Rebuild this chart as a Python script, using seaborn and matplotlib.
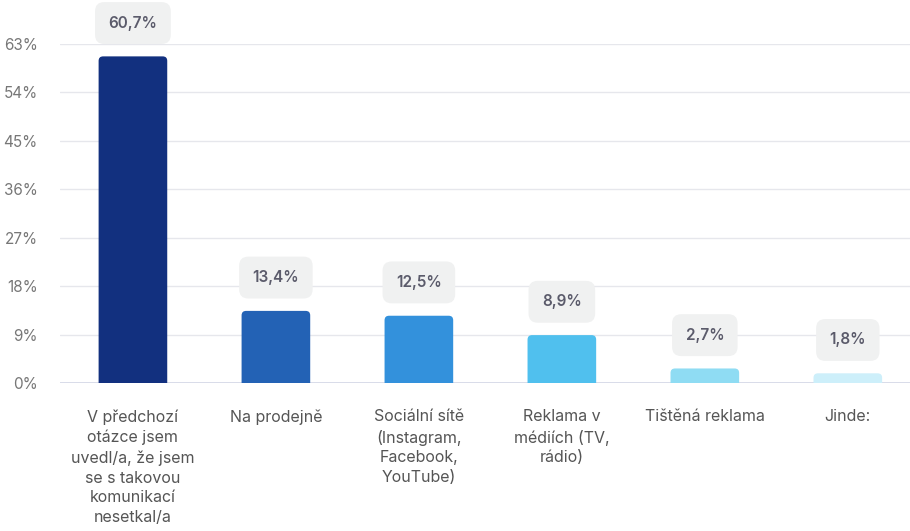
import matplotlib
matplotlib.use("Agg")
import matplotlib.pyplot as plt
from matplotlib.patches import FancyBboxPatch
import seaborn as sns
import pandas as pd

categories = [
    "V předchozí\notázce jsem\nuvedl/a, že jsem\nse s takovou\nkomunikací\nnesetkal/a",
    "Na prodejně",
    "Sociální sítě\n(Instagram,\nFacebook,\nYouTube)",
    "Reklama v\nmédiích (TV,\nrádio)",
    "Tištěná reklama",
    "Jinde:",
]
values = [60.7, 13.4, 12.5, 8.9, 2.7, 1.8]
value_labels = ["60,7%", "13,4%", "12,5%", "8,9%", "2,7%", "1,8%"]
colors = ["#12307f", "#2362b5", "#3391dc", "#50c0ee", "#8fdcf3", "#cdeffa"]
y_ticks = [0, 9, 18, 27, 36, 45, 54, 63]

sns.set_theme(style="white")
plt.rcParams["font.family"] = ["Inter", "DejaVu Sans"]

df = pd.DataFrame({"cat": categories, "val": values})

fig = plt.figure(figsize=(9.1, 5.31), dpi=100)
ax = fig.add_axes([60 / 910, 148 / 531, 850 / 910, 339 / 531])

sns.barplot(data=df, x="cat", y="val", hue="cat", palette=colors,
            width=0.48, legend=False, ax=ax, saturation=1)

ax.set_xlim(-0.51, 5.435)
ax.set_ylim(0, 63)

# replace plain bars with top-rounded ones
px_x = 850 / (5.435 + 0.51)
px_y = 339 / 63
r_px = 4.5
for p in list(ax.patches):
    x0, w, h = p.get_x(), p.get_width(), p.get_height()
    fc = p.get_facecolor()
    p.remove()
    r_x = r_px / px_x
    ry = r_px / px_y
    rb = FancyBboxPatch((x0, -ry), w, h + ry,
                        boxstyle=f"round,pad=0,rounding_size={r_x}",
                        mutation_aspect=px_x / px_y,
                        facecolor=fc, edgecolor="none", zorder=2,
                        clip_on=True)
    ax.add_patch(rb)

for i, (v, lab) in enumerate(zip(values, value_labels)):
    ax.annotate(lab, xy=(i, v), xytext=(0, 24), textcoords="offset points",
                ha="center", va="center", fontsize=11, fontweight="semibold",
                color="#5b5b6b", annotation_clip=False, zorder=4,
                bbox=dict(boxstyle="round,pad=0.88,rounding_size=0.6",
                          facecolor="#f0f1f1", edgecolor="none"))

ax.set_yticks(y_ticks)
ax.set_yticklabels([f"{t}%" for t in y_ticks])
ax.yaxis.grid(True, color="#e6e7ec", linewidth=1)
ax.set_axisbelow(True)
ax.axhline(0, color="#d3d7e6", linewidth=1.2, zorder=1)
for s in ax.spines.values():
    s.set_visible(False)

ax.tick_params(axis="y", length=0, pad=16, labelsize=11, labelcolor="#777777")
ax.tick_params(axis="x", length=0, pad=19, labelsize=11.5, labelcolor="#555555")
for t in ax.get_yticklabels():
    t.set_horizontalalignment("right")
for t in ax.get_xticklabels():
    t.set_linespacing(1.4)
    t.set_verticalalignment("top")
ax.set_xlabel("")
ax.set_ylabel("")

fig.savefig("out.png", dpi=100)
